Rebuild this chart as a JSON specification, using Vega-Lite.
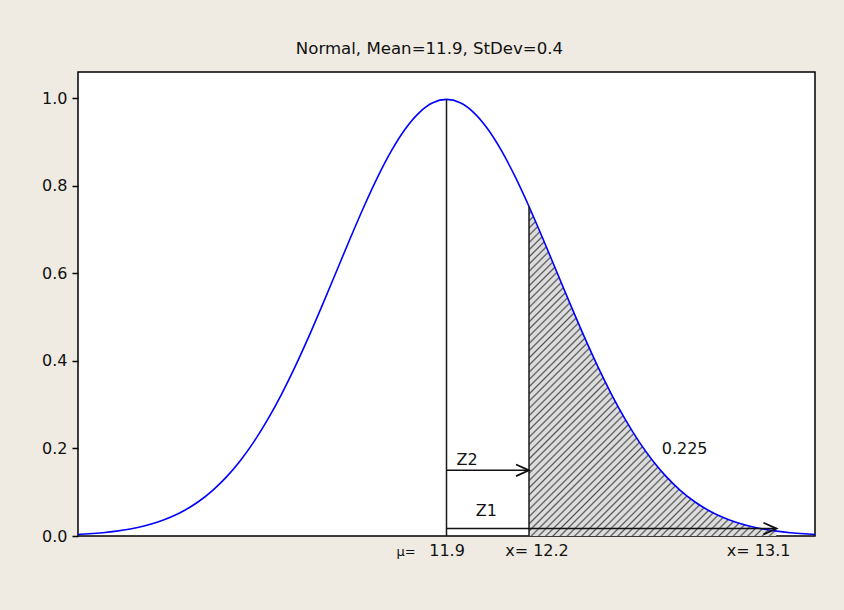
{
  "$schema": "https://vega.github.io/schema/vega-lite/v6.json",
  "width": 737,
  "height": 464,
  "autosize": "none",
  "padding": {"left": 78, "top": 72, "right": 29, "bottom": 74},
  "background": "#EFEBE2",
  "title": {
    "text": "Normal, Mean=11.9, StDev=0.4",
    "font": "DejaVu Sans",
    "fontSize": 16.6,
    "fontWeight": "normal",
    "color": "#111111",
    "anchor": "middle",
    "dx": -17,
    "offset": 14
  },
  "config": {
    "font": "DejaVu Sans",
    "view": {"fill": "white", "stroke": "black", "strokeWidth": 1.5}
  },
  "datasets": {
    "density": [
      {"x": 10.56, "y": 0.0036}, {"x": 10.6, "y": 0.0051}, {"x": 10.65, "y": 0.0076},
      {"x": 10.7, "y": 0.0111}, {"x": 10.75, "y": 0.016}, {"x": 10.8, "y": 0.0227},
      {"x": 10.85, "y": 0.0318}, {"x": 10.9, "y": 0.0438}, {"x": 10.95, "y": 0.0594},
      {"x": 11, "y": 0.0794}, {"x": 11.05, "y": 0.1043}, {"x": 11.1, "y": 0.135},
      {"x": 11.15, "y": 0.172}, {"x": 11.2, "y": 0.2157}, {"x": 11.25, "y": 0.2664},
      {"x": 11.3, "y": 0.3238}, {"x": 11.35, "y": 0.3875}, {"x": 11.4, "y": 0.4566},
      {"x": 11.45, "y": 0.5297}, {"x": 11.5, "y": 0.6049}, {"x": 11.55, "y": 0.6801},
      {"x": 11.6, "y": 0.7528}, {"x": 11.65, "y": 0.8204}, {"x": 11.7, "y": 0.8802},
      {"x": 11.75, "y": 0.9297}, {"x": 11.8, "y": 0.9667}, {"x": 11.85, "y": 0.9896},
      {"x": 11.9, "y": 0.9974},
      {"x": 11.95, "y": 0.9896}, {"x": 12, "y": 0.9667}, {"x": 12.05, "y": 0.9297},
      {"x": 12.1, "y": 0.8802}, {"x": 12.15, "y": 0.8204}, {"x": 12.2, "y": 0.7528},
      {"x": 12.25, "y": 0.6801}, {"x": 12.3, "y": 0.6049}, {"x": 12.35, "y": 0.5297},
      {"x": 12.4, "y": 0.4566}, {"x": 12.45, "y": 0.3875}, {"x": 12.5, "y": 0.3238},
      {"x": 12.55, "y": 0.2664}, {"x": 12.6, "y": 0.2157}, {"x": 12.65, "y": 0.172},
      {"x": 12.7, "y": 0.135}, {"x": 12.75, "y": 0.1043}, {"x": 12.8, "y": 0.0794},
      {"x": 12.85, "y": 0.0594}, {"x": 12.9, "y": 0.0438}, {"x": 12.95, "y": 0.0318},
      {"x": 13, "y": 0.0227}, {"x": 13.05, "y": 0.016}, {"x": 13.1, "y": 0.0111},
      {"x": 13.15, "y": 0.0076}, {"x": 13.2, "y": 0.0051}, {"x": 13.24, "y": 0.0036}
    ],
    "guides": [
      {"x": 11.9, "y": 0, "y2": 0.9974},
      {"x": 12.2, "y": 0, "y2": 0.7528}
    ],
    "arrows": [
      {"name": "Z2", "x": 11.9, "x2": 12.2, "y": 0.15},
      {"name": "Z1", "x": 11.9, "x2": 13.1, "y": 0.017}
    ],
    "notes": [
      {"text": "Z2", "x": 11.975, "y": 0.174},
      {"text": "Z1", "x": 12.045, "y": 0.058},
      {"text": "0.225", "x": 12.766, "y": 0.198},
      {"text": "11.9", "x": 11.902, "y": -0.035},
      {"text": "x= 12.2", "x": 12.229, "y": -0.035},
      {"text": "x= 13.1", "x": 13.035, "y": -0.035}
    ],
    "mu": [
      {"text": "μ=", "x": 11.753, "y": -0.037}
    ]
  },
  "encoding": {
    "x": {
      "field": "x",
      "type": "quantitative",
      "scale": {"domain": [10.56, 13.24], "nice": false, "zero": false},
      "axis": null
    },
    "y": {
      "field": "y",
      "type": "quantitative",
      "scale": {"domain": [0, 1.06], "nice": false, "zero": false},
      "axis": {
        "title": null,
        "values": [0, 0.2, 0.4, 0.6, 0.8, 1.0],
        "format": ".1f",
        "grid": false,
        "domain": false,
        "ticks": true,
        "tickSize": 6,
        "tickColor": "black",
        "tickWidth": 1.5,
        "labelFont": "DejaVu Sans",
        "labelFontSize": 16,
        "labelColor": "#111111",
        "labelPadding": 5
      }
    }
  },
  "layer": [
    {
      "data": {"name": "density"},
      "transform": [{"filter": {"field": "x", "range": [12.2, 13.1]}}],
      "mark": {
        "type": "area",
        "interpolate": "monotone",
        "fill": {
          "gradient": "linear",
          "x1": 0, "y1": 0, "x2": 0.841, "y2": 1.12,
          "stops": [
            {"offset":0,"color":"#555"},{"offset":0.003,"color":"#ddd"},{"offset":0.0095,"color":"#ddd"},
            {"offset":0.0125,"color":"#555"},{"offset":0.0155,"color":"#ddd"},{"offset":0.022,"color":"#ddd"},
            {"offset":0.025,"color":"#555"},{"offset":0.028,"color":"#ddd"},{"offset":0.0345,"color":"#ddd"},
            {"offset":0.0375,"color":"#555"},{"offset":0.0405,"color":"#ddd"},{"offset":0.047,"color":"#ddd"},
            {"offset":0.05,"color":"#555"},{"offset":0.053,"color":"#ddd"},{"offset":0.0595,"color":"#ddd"},
            {"offset":0.0625,"color":"#555"},{"offset":0.0655,"color":"#ddd"},{"offset":0.072,"color":"#ddd"},
            {"offset":0.075,"color":"#555"},{"offset":0.078,"color":"#ddd"},{"offset":0.0845,"color":"#ddd"},
            {"offset":0.0875,"color":"#555"},{"offset":0.0905,"color":"#ddd"},{"offset":0.097,"color":"#ddd"},
            {"offset":0.1,"color":"#555"},{"offset":0.103,"color":"#ddd"},{"offset":0.1095,"color":"#ddd"},
            {"offset":0.1125,"color":"#555"},{"offset":0.1155,"color":"#ddd"},{"offset":0.122,"color":"#ddd"},
            {"offset":0.125,"color":"#555"},{"offset":0.128,"color":"#ddd"},{"offset":0.1345,"color":"#ddd"},
            {"offset":0.1375,"color":"#555"},{"offset":0.1405,"color":"#ddd"},{"offset":0.147,"color":"#ddd"},
            {"offset":0.15,"color":"#555"},{"offset":0.153,"color":"#ddd"},{"offset":0.1595,"color":"#ddd"},
            {"offset":0.1625,"color":"#555"},{"offset":0.1655,"color":"#ddd"},{"offset":0.172,"color":"#ddd"},
            {"offset":0.175,"color":"#555"},{"offset":0.178,"color":"#ddd"},{"offset":0.1845,"color":"#ddd"},
            {"offset":0.1875,"color":"#555"},{"offset":0.1905,"color":"#ddd"},{"offset":0.197,"color":"#ddd"},
            {"offset":0.2,"color":"#555"},{"offset":0.203,"color":"#ddd"},{"offset":0.2095,"color":"#ddd"},
            {"offset":0.2125,"color":"#555"},{"offset":0.2155,"color":"#ddd"},{"offset":0.222,"color":"#ddd"},
            {"offset":0.225,"color":"#555"},{"offset":0.228,"color":"#ddd"},{"offset":0.2345,"color":"#ddd"},
            {"offset":0.2375,"color":"#555"},{"offset":0.2405,"color":"#ddd"},{"offset":0.247,"color":"#ddd"},
            {"offset":0.25,"color":"#555"},{"offset":0.253,"color":"#ddd"},{"offset":0.2595,"color":"#ddd"},
            {"offset":0.2625,"color":"#555"},{"offset":0.2655,"color":"#ddd"},{"offset":0.272,"color":"#ddd"},
            {"offset":0.275,"color":"#555"},{"offset":0.278,"color":"#ddd"},{"offset":0.2845,"color":"#ddd"},
            {"offset":0.2875,"color":"#555"},{"offset":0.2905,"color":"#ddd"},{"offset":0.297,"color":"#ddd"},
            {"offset":0.3,"color":"#555"},{"offset":0.303,"color":"#ddd"},{"offset":0.3095,"color":"#ddd"},
            {"offset":0.3125,"color":"#555"},{"offset":0.3155,"color":"#ddd"},{"offset":0.322,"color":"#ddd"},
            {"offset":0.325,"color":"#555"},{"offset":0.328,"color":"#ddd"},{"offset":0.3345,"color":"#ddd"},
            {"offset":0.3375,"color":"#555"},{"offset":0.3405,"color":"#ddd"},{"offset":0.347,"color":"#ddd"},
            {"offset":0.35,"color":"#555"},{"offset":0.353,"color":"#ddd"},{"offset":0.3595,"color":"#ddd"},
            {"offset":0.3625,"color":"#555"},{"offset":0.3655,"color":"#ddd"},{"offset":0.372,"color":"#ddd"},
            {"offset":0.375,"color":"#555"},{"offset":0.378,"color":"#ddd"},{"offset":0.3845,"color":"#ddd"},
            {"offset":0.3875,"color":"#555"},{"offset":0.3905,"color":"#ddd"},{"offset":0.397,"color":"#ddd"},
            {"offset":0.4,"color":"#555"},{"offset":0.403,"color":"#ddd"},{"offset":0.4095,"color":"#ddd"},
            {"offset":0.4125,"color":"#555"},{"offset":0.4155,"color":"#ddd"},{"offset":0.422,"color":"#ddd"},
            {"offset":0.425,"color":"#555"},{"offset":0.428,"color":"#ddd"},{"offset":0.4345,"color":"#ddd"},
            {"offset":0.4375,"color":"#555"},{"offset":0.4405,"color":"#ddd"},{"offset":0.447,"color":"#ddd"},
            {"offset":0.45,"color":"#555"},{"offset":0.453,"color":"#ddd"},{"offset":0.4595,"color":"#ddd"},
            {"offset":0.4625,"color":"#555"},{"offset":0.4655,"color":"#ddd"},{"offset":0.472,"color":"#ddd"},
            {"offset":0.475,"color":"#555"},{"offset":0.478,"color":"#ddd"},{"offset":0.4845,"color":"#ddd"},
            {"offset":0.4875,"color":"#555"},{"offset":0.4905,"color":"#ddd"},{"offset":0.497,"color":"#ddd"},
            {"offset":0.5,"color":"#555"},{"offset":0.503,"color":"#ddd"},{"offset":0.5095,"color":"#ddd"},
            {"offset":0.5125,"color":"#555"},{"offset":0.5155,"color":"#ddd"},{"offset":0.522,"color":"#ddd"},
            {"offset":0.525,"color":"#555"},{"offset":0.528,"color":"#ddd"},{"offset":0.5345,"color":"#ddd"},
            {"offset":0.5375,"color":"#555"},{"offset":0.5405,"color":"#ddd"},{"offset":0.547,"color":"#ddd"},
            {"offset":0.55,"color":"#555"},{"offset":0.553,"color":"#ddd"},{"offset":0.5595,"color":"#ddd"},
            {"offset":0.5625,"color":"#555"},{"offset":0.5655,"color":"#ddd"},{"offset":0.572,"color":"#ddd"},
            {"offset":0.575,"color":"#555"},{"offset":0.578,"color":"#ddd"},{"offset":0.5845,"color":"#ddd"},
            {"offset":0.5875,"color":"#555"},{"offset":0.5905,"color":"#ddd"},{"offset":0.597,"color":"#ddd"},
            {"offset":0.6,"color":"#555"},{"offset":0.603,"color":"#ddd"},{"offset":0.6095,"color":"#ddd"},
            {"offset":0.6125,"color":"#555"},{"offset":0.6155,"color":"#ddd"},{"offset":0.622,"color":"#ddd"},
            {"offset":0.625,"color":"#555"},{"offset":0.628,"color":"#ddd"},{"offset":0.6345,"color":"#ddd"},
            {"offset":0.6375,"color":"#555"},{"offset":0.6405,"color":"#ddd"},{"offset":0.647,"color":"#ddd"},
            {"offset":0.65,"color":"#555"},{"offset":0.653,"color":"#ddd"},{"offset":0.6595,"color":"#ddd"},
            {"offset":0.6625,"color":"#555"},{"offset":0.6655,"color":"#ddd"},{"offset":0.672,"color":"#ddd"},
            {"offset":0.675,"color":"#555"},{"offset":0.678,"color":"#ddd"},{"offset":0.6845,"color":"#ddd"},
            {"offset":0.6875,"color":"#555"},{"offset":0.6905,"color":"#ddd"},{"offset":0.697,"color":"#ddd"},
            {"offset":0.7,"color":"#555"},{"offset":0.703,"color":"#ddd"},{"offset":0.7095,"color":"#ddd"},
            {"offset":0.7125,"color":"#555"},{"offset":0.7155,"color":"#ddd"},{"offset":0.722,"color":"#ddd"},
            {"offset":0.725,"color":"#555"},{"offset":0.728,"color":"#ddd"},{"offset":0.7345,"color":"#ddd"},
            {"offset":0.7375,"color":"#555"},{"offset":0.7405,"color":"#ddd"},{"offset":0.747,"color":"#ddd"},
            {"offset":0.75,"color":"#555"},{"offset":0.753,"color":"#ddd"},{"offset":0.7595,"color":"#ddd"},
            {"offset":0.7625,"color":"#555"},{"offset":0.7655,"color":"#ddd"},{"offset":0.772,"color":"#ddd"},
            {"offset":0.775,"color":"#555"},{"offset":0.778,"color":"#ddd"},{"offset":0.7845,"color":"#ddd"},
            {"offset":0.7875,"color":"#555"},{"offset":0.7905,"color":"#ddd"},{"offset":0.797,"color":"#ddd"},
            {"offset":0.8,"color":"#555"},{"offset":0.803,"color":"#ddd"},{"offset":0.8095,"color":"#ddd"},
            {"offset":0.8125,"color":"#555"},{"offset":0.8155,"color":"#ddd"},{"offset":0.822,"color":"#ddd"},
            {"offset":0.825,"color":"#555"},{"offset":0.828,"color":"#ddd"},{"offset":0.8345,"color":"#ddd"},
            {"offset":0.8375,"color":"#555"},{"offset":0.8405,"color":"#ddd"},{"offset":0.847,"color":"#ddd"},
            {"offset":0.85,"color":"#555"},{"offset":0.853,"color":"#ddd"},{"offset":0.8595,"color":"#ddd"},
            {"offset":0.8625,"color":"#555"},{"offset":0.8655,"color":"#ddd"},{"offset":0.872,"color":"#ddd"},
            {"offset":0.875,"color":"#555"},{"offset":0.878,"color":"#ddd"},{"offset":0.8845,"color":"#ddd"},
            {"offset":0.8875,"color":"#555"},{"offset":0.8905,"color":"#ddd"},{"offset":0.897,"color":"#ddd"},
            {"offset":0.9,"color":"#555"},{"offset":0.903,"color":"#ddd"},{"offset":0.9095,"color":"#ddd"},
            {"offset":0.9125,"color":"#555"},{"offset":0.9155,"color":"#ddd"},{"offset":0.922,"color":"#ddd"},
            {"offset":0.925,"color":"#555"},{"offset":0.928,"color":"#ddd"},{"offset":0.9345,"color":"#ddd"},
            {"offset":0.9375,"color":"#555"},{"offset":0.9405,"color":"#ddd"},{"offset":0.947,"color":"#ddd"},
            {"offset":0.95,"color":"#555"},{"offset":0.953,"color":"#ddd"},{"offset":0.9595,"color":"#ddd"},
            {"offset":0.9625,"color":"#555"},{"offset":0.9655,"color":"#ddd"},{"offset":0.972,"color":"#ddd"},
            {"offset":0.975,"color":"#555"},{"offset":0.978,"color":"#ddd"},{"offset":0.9845,"color":"#ddd"},
            {"offset":0.9875,"color":"#555"},{"offset":0.9905,"color":"#ddd"},{"offset":0.997,"color":"#ddd"},
            {"offset":1,"color":"#555"}
          ]
        }
      }
    },
    {
      "data": {"name": "density"},
      "mark": {"type": "line", "stroke": "#0000ff", "strokeWidth": 1.6, "interpolate": "monotone"}
    },
    {
      "data": {"name": "guides"},
      "mark": {"type": "rule", "stroke": "#1a1a1a", "strokeWidth": 1.5},
      "encoding": {"y2": {"field": "y2"}}
    },
    {
      "data": {"name": "arrows"},
      "mark": {"type": "rule", "stroke": "#111111", "strokeWidth": 1.5},
      "encoding": {"x2": {"field": "x2"}}
    },
    {
      "data": {"name": "arrows"},
      "mark": {
        "type": "point",
        "shape": "M-2,-0.9L0,0L-2,0.9",
        "size": 169,
        "filled": false,
        "stroke": "#111111",
        "strokeWidth": 1.8,
        "opacity": 1
      },
      "encoding": {"x": {"field": "x2", "type": "quantitative"}}
    },
    {
      "data": {"name": "notes"},
      "mark": {"type": "text", "font": "DejaVu Sans", "fontSize": 16, "color": "#111111", "align": "center", "baseline": "middle"},
      "encoding": {"text": {"field": "text"}}
    },
    {
      "data": {"name": "mu"},
      "mark": {"type": "text", "font": "DejaVu Sans", "fontSize": 13, "color": "#111111", "align": "center", "baseline": "middle"},
      "encoding": {"text": {"field": "text"}}
    }
  ]
}
